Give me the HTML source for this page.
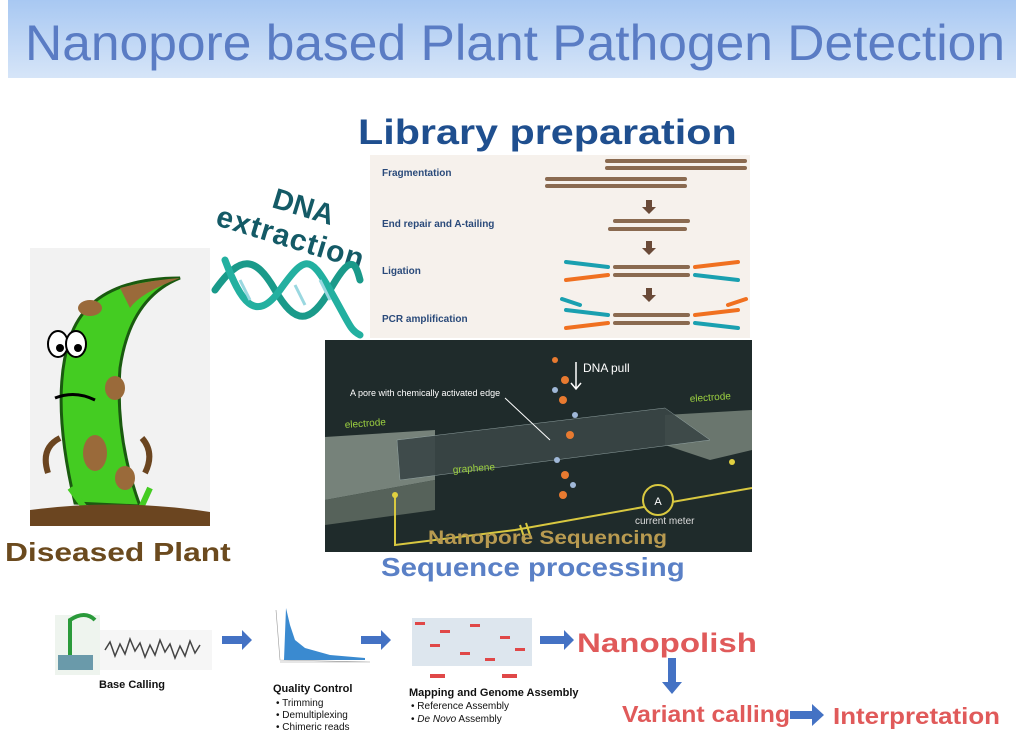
<!DOCTYPE html>
<html><head><meta charset="utf-8"><style>
body{margin:0;width:1024px;height:732px;background:#fff;position:relative;overflow:hidden;font-family:"Liberation Sans",sans-serif}
.a{position:absolute;white-space:nowrap}
</style></head><body>
<div class="a" style="left:8px;top:0;width:1008px;height:78px;background:linear-gradient(180deg,#a8c8f2,#d6e5f8)"></div>
<svg class="a" style="left:0;top:0" width="1024" height="80"><text x="25" y="60" font-family="Liberation Sans" font-size="50" fill="#5a7cc4" textLength="980" lengthAdjust="spacingAndGlyphs">Nanopore based Plant Pathogen Detection</text></svg>

<div class="a" style="left:358px;top:113px;font-size:35px;font-weight:bold;color:#1f4f8f;transform:scaleX(1.18);transform-origin:left top">Library preparation</div>

<!-- library panel -->
<div class="a" style="left:370px;top:155px;width:380px;height:183px;background:#f6f1ec"></div>
<svg class="a" style="left:370px;top:155px" width="380" height="183">
<g font-family="Liberation Sans" font-weight="bold" font-size="10" fill="#2a4a7a">
<text x="12" y="21">Fragmentation</text><text x="12" y="72">End repair and A-tailing</text>
<text x="12" y="119">Ligation</text><text x="12" y="167">PCR amplification</text></g>
<g stroke="#8a6a50" stroke-width="4" stroke-linecap="round">
<line x1="237" y1="6" x2="375" y2="6"/><line x1="237" y1="13" x2="375" y2="13"/>
<line x1="177" y1="24" x2="315" y2="24"/><line x1="177" y1="31" x2="315" y2="31"/>
<line x1="245" y1="66" x2="318" y2="66"/><line x1="240" y1="74" x2="315" y2="74"/>
<line x1="245" y1="112" x2="318" y2="112"/><line x1="245" y1="120" x2="318" y2="120"/>
<line x1="245" y1="160" x2="318" y2="160"/><line x1="245" y1="168" x2="318" y2="168"/></g>
<g fill="#6a4a38"><path d="M276 45h6v7h4l-7 7-7-7h4z"/><path d="M276 86h6v7h4l-7 7-7-7h4z"/><path d="M276 133h6v7h4l-7 7-7-7h4z"/></g>
<g stroke-width="4" stroke-linecap="round">
<path d="M196 107 L238 112" stroke="#1aa0b0"/><path d="M196 125 L238 120" stroke="#f07020"/>
<path d="M325 112 L368 107" stroke="#f07020"/><path d="M325 120 L368 125" stroke="#1aa0b0"/>
<path d="M196 155 L238 160" stroke="#1aa0b0"/><path d="M196 173 L238 168" stroke="#f07020"/>
<path d="M325 160 L368 155" stroke="#f07020"/><path d="M325 168 L368 173" stroke="#1aa0b0"/>
<path d="M192 144 L210 150" stroke="#1aa0b0"/><path d="M358 150 L376 144" stroke="#f07020"/></g>
</svg>

<!-- DNA extraction -->
<div class="a" style="left:278px;top:183px;font-size:29px;font-weight:bold;color:#145a66;transform:rotate(17deg);transform-origin:left top">DNA</div>
<div class="a" style="left:222px;top:200px;font-size:30px;font-weight:bold;color:#145a66;transform:rotate(17deg);transform-origin:left top;letter-spacing:1px">extraction</div>
<svg class="a" style="left:210px;top:250px" width="160" height="90">
<g fill="none" stroke-width="7" stroke-linecap="round">
<path d="M5 40 C30 5,45 5,65 40 S100 75,120 40 S145 10,150 30" stroke="#1a9a8a"/>
<path d="M15 10 C30 50,45 75,70 40 S100 5,120 40 S140 80,150 85" stroke="#23b0a0"/></g>
<g stroke="#9ad8e0" stroke-width="3"><line x1="30" y1="30" x2="40" y2="50"/><line x1="85" y1="35" x2="95" y2="55"/><line x1="110" y1="30" x2="120" y2="50"/></g>
</svg>

<!-- plant -->
<div class="a" style="left:30px;top:248px;width:180px;height:278px;background:#f2f2f2"></div>
<svg class="a" style="left:30px;top:248px" width="180" height="278">
<path d="M45 255 Q20 150 40 90 Q60 30 150 30 Q100 50 90 120 Q85 190 110 258 Z" fill="#44cc22" stroke="#1a5a10" stroke-width="3"/>
<path d="M90 40 Q120 32 150 30 Q110 45 100 60 Z" fill="#9a6a3a"/>
<ellipse cx="65" cy="205" rx="12" ry="18" fill="#9a6a3a"/><ellipse cx="95" cy="230" rx="10" ry="12" fill="#9a6a3a"/>
<ellipse cx="60" cy="60" rx="12" ry="8" fill="#9a6a3a"/><ellipse cx="85" cy="140" rx="10" ry="12" fill="#9a6a3a"/>
<ellipse cx="28" cy="96" rx="10" ry="13" fill="#fff" stroke="#000" stroke-width="2"/><ellipse cx="46" cy="96" rx="10" ry="13" fill="#fff" stroke="#000" stroke-width="2"/>
<circle cx="30" cy="100" r="4"/><circle cx="48" cy="100" r="4"/>
<path d="M25 150 Q45 142 65 152" stroke="#000" stroke-width="3" fill="none"/>
<path d="M30 190 Q10 200 18 225 M112 190 Q125 205 115 225" stroke="#6b4520" stroke-width="6" fill="none"/>
<path d="M40 240 L55 260 M120 240 L110 262" stroke="#44cc22" stroke-width="6"/>
<path d="M0 262 Q90 250 180 264 L180 278 L0 278 Z" fill="#6b4520"/>
</svg>
<div class="a" style="left:5px;top:537px;font-size:26px;font-weight:bold;color:#6b4a1e;transform:scaleX(1.22);transform-origin:left top">Diseased Plant</div>

<!-- nanopore panel -->
<div class="a" style="left:325px;top:340px;width:427px;height:212px;background:#1f2b2b"></div>
<svg class="a" style="left:325px;top:340px" width="427" height="212">
<path d="M0 97 L110 90 L110 140 L0 160 Z" fill="#76827a"/><path d="M0 160 L110 140 L110 170 L0 185 Z" fill="#56625a"/>
<path d="M340 75 L427 70 L427 110 L385 120 L340 105 Z" fill="#6a766e"/>
<path d="M72 100 L340 68 L385 100 L75 140 Z" fill="#3a4646" stroke="#9aa" stroke-width="0.5" opacity="0.9"/>
<path d="M70 155 L70 205 L190 190 L330 165 L427 148" stroke="#d8c840" stroke-width="2" fill="none"/>
<path d="M195 185 L200 200 M201 183 L206 198" stroke="#d8c840" stroke-width="2"/>
<circle cx="333" cy="160" r="15" fill="#1f2b2b" stroke="#d8c840" stroke-width="2"/><text x="333" y="165" font-size="11" fill="#fff" text-anchor="middle" font-family="Liberation Sans">A</text>
<circle cx="70" cy="155" r="3" fill="#e0d040"/><circle cx="407" cy="122" r="3" fill="#e0d040"/>
<g fill="#e87a30"><circle cx="240" cy="40" r="4"/><circle cx="238" cy="60" r="4"/><circle cx="245" cy="95" r="4"/><circle cx="240" cy="135" r="4"/><circle cx="238" cy="155" r="4"/><circle cx="230" cy="20" r="3"/></g>
<g fill="#a0b8d8"><circle cx="230" cy="50" r="3"/><circle cx="250" cy="75" r="3"/><circle cx="232" cy="120" r="3"/><circle cx="248" cy="145" r="3"/></g>
<path d="M251 22 V48 M246 43 L251 49 L256 43" stroke="#fff" stroke-width="1.5" fill="none"/>
<line x1="180" y1="58" x2="225" y2="100" stroke="#fff" stroke-width="1"/>
<g font-family="Liberation Sans" font-size="10"><text x="258" y="32" fill="#fff" font-size="12">DNA pull</text>
<text x="25" y="56" fill="#fff" font-size="9">A pore with chemically activated edge</text>
<text x="20" y="88" fill="#9cd040" transform="rotate(-4 20 88)">electrode</text>
<text x="365" y="62" fill="#9cd040" transform="rotate(-4 365 62)">electrode</text>
<text x="128" y="133" fill="#9cd040" transform="rotate(-4 128 133)">graphene</text>
<text x="310" y="184" fill="#ddd">current meter</text></g>
<text x="103" y="204" font-family="Liberation Sans" font-weight="bold" font-size="19" fill="#b89a50" textLength="239" lengthAdjust="spacingAndGlyphs">Nanopore Sequencing</text>
</svg>

<div class="a" style="left:381px;top:552px;font-size:26px;font-weight:bold;color:#5a80c6;transform:scaleX(1.13);transform-origin:left top">Sequence processing</div>

<!-- bottom row -->
<svg class="a" style="left:0;top:600px" width="1024" height="132">
<rect x="55" y="15" width="45" height="60" fill="#eef4ee"/>
<path d="M70 70 V20 Q85 10 95 20" stroke="#2a9a3a" stroke-width="4" fill="none"/>
<rect x="58" y="55" width="35" height="15" fill="#6a9aaa"/><rect x="100" y="30" width="112" height="40" fill="#f6f6f6"/>
<path d="M105 50 l5 -8 5 14 5 -12 5 10 5 -15 5 12 5 -8 5 14 5 -12 5 10 5 -15 5 12 5 -8 5 14 5 -12 5 10 5 -15 5 12 5 -8" stroke="#444" fill="none" stroke-width="1.5"/>
<path d="M276 10 L280 60 L370 62 L280 62" fill="none" stroke="#999" stroke-width="0.6"/>
<path d="M284 60 L286 8 L290 25 L295 40 L305 48 L330 55 L365 58 L365 60 Z" fill="#3a8ad0"/>
<rect x="412" y="18" width="120" height="48" fill="#dde6ee"/>
<g fill="#e04848"><rect x="415" y="22" width="10" height="3"/><rect x="440" y="30" width="10" height="3"/><rect x="470" y="24" width="10" height="3"/><rect x="500" y="36" width="10" height="3"/><rect x="430" y="44" width="10" height="3"/><rect x="460" y="52" width="10" height="3"/><rect x="515" y="48" width="10" height="3"/><rect x="485" y="58" width="10" height="3"/><rect x="430" y="74" width="15" height="4"/><rect x="502" y="74" width="15" height="4"/></g>
<g fill="#4472c4"><path d="M222 36 h20 v-6 l10 10 -10 10 v-6 h-20z"/><path d="M361 36 h20 v-6 l10 10 -10 10 v-6 h-20z"/><path d="M540 36 h24 v-6 l10 10 -10 10 v-6 h-24z"/>
<path d="M668 58 h8 v24 h6 l-10 12 -10 -12 h6z"/><path d="M790 111 h22 v-7 l12 11 -12 11 v-7 h-22z"/></g>
<g font-family="Liberation Sans" fill="#111"><text x="99" y="88" font-size="11" font-weight="bold">Base Calling</text>
<text x="273" y="92" font-size="11" font-weight="bold">Quality  Control</text>
<text x="276" y="106" font-size="10">•   Trimming</text><text x="276" y="118" font-size="10">•   Demultiplexing</text><text x="276" y="130" font-size="10">•   Chimeric reads</text>
<text x="409" y="96" font-size="11" font-weight="bold">Mapping and Genome Assembly</text>
<text x="411" y="109" font-size="10">•   Reference Assembly</text><text x="411" y="122" font-size="10">•   <tspan font-style="italic">De Novo</tspan> Assembly</text></g>
<g font-family="Liberation Sans" font-weight="bold" fill="#e05a5a"><text x="577" y="52" font-size="27" textLength="180" lengthAdjust="spacingAndGlyphs">Nanopolish</text>
<text x="622" y="122" font-size="23" textLength="168" lengthAdjust="spacingAndGlyphs">Variant calling</text><text x="833" y="124" font-size="23" textLength="167" lengthAdjust="spacingAndGlyphs">Interpretation</text></g>
</svg>
</body></html>
